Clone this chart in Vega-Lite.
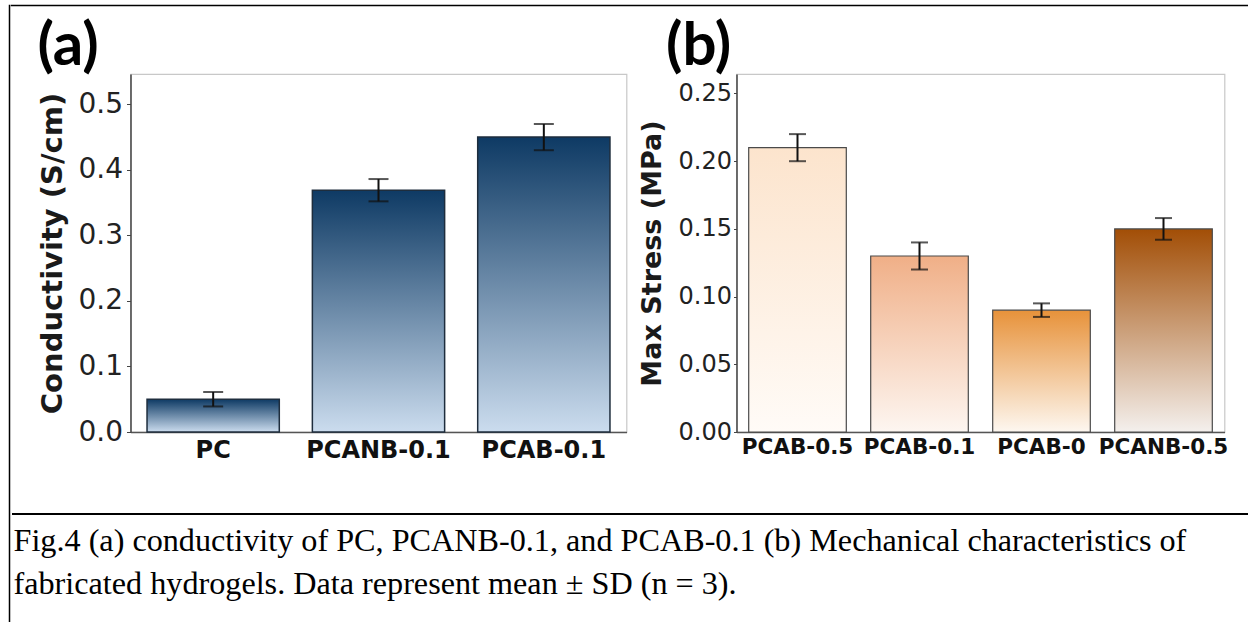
{
  "$schema": "https://vega.github.io/schema/vega-lite/v6.json",
  "padding": {"left": 8.5, "top": 4.5, "right": 0, "bottom": 0},
  "background": "white",
  "datasets": {
    "cond": [
      {"sample": "PC", "mean": 0.05, "sd": 0.011},
      {"sample": "PCANB-0.1", "mean": 0.369, "sd": 0.017},
      {"sample": "PCAB-0.1", "mean": 0.45, "sd": 0.02}
    ],
    "stress": [
      {"sample": "PCAB-0.5", "mean": 0.21, "sd": 0.01},
      {"sample": "PCAB-0.1", "mean": 0.13, "sd": 0.01},
      {"sample": "PCAB-0", "mean": 0.09, "sd": 0.005},
      {"sample": "PCANB-0.5", "mean": 0.15, "sd": 0.008}
    ],
    "caption": [
      {"line": 1, "text": "Fig.4 (a) conductivity of PC, PCANB-0.1, and PCAB-0.1 (b) Mechanical characteristics of"},
      {"line": 2, "text": "fabricated hydrogels. Data represent mean ± SD (n = 3)."}
    ]
  },
  "spacing": 0,
  "hconcat": [
    {
      "width": 0.01,
      "height": 620,
      "view": {"stroke": "#000000", "strokeWidth": 1.5},
      "data": {"values": []},
      "mark": {"type": "rule"},
      "encoding": {}
    },
    {
      "spacing": 9.5,
      "vconcat": [
        {
          "width": 1250,
          "height": 0.01,
          "view": {"stroke": "#000000", "strokeWidth": 1.5},
          "data": {"values": []},
          "mark": {"type": "rule"},
          "encoding": {}
        },
        {
          "spacing": 9,
          "hconcat": [
            {
              "width": 15.5,
              "height": 429.5,
              "view": {"stroke": "transparent"},
              "data": {"values": []},
              "mark": {"type": "rule"},
              "encoding": {}
            },
            {
              "width": 496,
              "height": 358,
              "title": {"text": "(a)", "anchor": "start", "font": "Lato", "fontSize": 60, "fontWeight": "bold", "color": "#000000", "dx": -1, "offset": -4.3},
              "data": {"name": "cond"},
              "encoding": {
                "x": {
                  "field": "sample", "type": "nominal",
                  "sort": ["PC", "PCANB-0.1", "PCAB-0.1"],
                  "scale": {"paddingInner": 0.2, "paddingOuter": 0.1},
                  "axis": {"title": null, "labelAngle": 0, "labelFont": "DejaVu Sans", "labelFontWeight": "bold", "labelFontSize": 24, "labelColor": "#111111", "ticks": false, "labelPadding": 6, "domainColor": "#555555", "domainWidth": 1.5}
                }
              },
              "layer": [
                {
                  "mark": {
                    "type": "bar",
                    "fill": {"gradient": "linear", "x1": 0, "y1": 1, "x2": 0, "y2": 0, "stops": [{"offset": 0, "color": "#cbdcee"}, {"offset": 1, "color": "#0e3a64"}]},
                    "stroke": "#1e2d3d", "strokeWidth": 1.5
                  },
                  "encoding": {
                    "y": {
                      "field": "mean", "type": "quantitative", "title": "Conductivity (S/cm)",
                      "scale": {"domain": [0, 0.5463], "nice": false, "zero": true},
                      "axis": {"values": [0, 0.1, 0.2, 0.3, 0.4, 0.5], "format": ".1f", "grid": false, "labelFont": "DejaVu Sans", "labelFontSize": 28, "labelColor": "#222222", "tickSize": 4, "tickColor": "#444444", "labelPadding": 4, "domainColor": "#444444", "domainWidth": 1.5, "titleFont": "DejaVu Sans", "titleFontSize": 29, "titleFontWeight": "bold", "titleColor": "#1a1a1a", "titlePadding": 10.5}
                    }
                  }
                },
                {
                  "mark": {"type": "errorbar", "color": "#111111", "thickness": 2, "ticks": {"size": 20, "thickness": 2, "color": "#111111"}},
                  "encoding": {
                    "y": {"field": "mean", "type": "quantitative", "title": "Conductivity (S/cm)"},
                    "yError": {"field": "sd"}
                  }
                }
              ]
            },
            {
              "width": 488,
              "height": 358,
              "title": {"text": "(b)", "anchor": "start", "font": "Lato", "fontSize": 60, "fontWeight": "bold", "color": "#000000", "dx": 28, "offset": -4.3},
              "data": {"name": "stress"},
              "encoding": {
                "x": {
                  "field": "sample", "type": "nominal",
                  "sort": ["PCAB-0.5", "PCAB-0.1", "PCAB-0", "PCANB-0.5"],
                  "scale": {"paddingInner": 0.2, "paddingOuter": 0.1},
                  "axis": {"title": null, "labelAngle": 0, "labelFont": "DejaVu Sans", "labelFontWeight": "bold", "labelFontSize": 21.5, "labelColor": "#111111", "ticks": false, "labelPadding": 4, "domainColor": "#555555", "domainWidth": 1.5}
                }
              },
              "layer": [
                {
                  "mark": {"type": "bar", "stroke": "#4a4a4a", "strokeWidth": 1.2},
                  "encoding": {
                    "fill": {
                      "condition": [
                        {"test": "datum.sample === 'PCAB-0.5'", "value": {"gradient": "linear", "x1": 0, "y1": 1, "x2": 0, "y2": 0, "stops": [{"offset": 0, "color": "#fffbf7"}, {"offset": 1, "color": "#fce4cd"}]}},
                        {"test": "datum.sample === 'PCAB-0.1'", "value": {"gradient": "linear", "x1": 0, "y1": 1, "x2": 0, "y2": 0, "stops": [{"offset": 0, "color": "#fdf6f1"}, {"offset": 1, "color": "#f0af87"}]}},
                        {"test": "datum.sample === 'PCAB-0'", "value": {"gradient": "linear", "x1": 0, "y1": 1, "x2": 0, "y2": 0, "stops": [{"offset": 0, "color": "#fdf7f0"}, {"offset": 1, "color": "#e7923a"}]}}
                      ],
                      "value": {"gradient": "linear", "x1": 0, "y1": 1, "x2": 0, "y2": 0, "stops": [{"offset": 0, "color": "#f4f0ed"}, {"offset": 1, "color": "#a24e06"}]}
                    },
                    "y": {
                      "field": "mean", "type": "quantitative", "title": "Max Stress (MPa)",
                      "scale": {"domain": [0, 0.2644], "nice": false, "zero": true},
                      "axis": {"values": [0, 0.05, 0.1, 0.15, 0.2, 0.25], "format": ".2f", "grid": false, "labelFont": "DejaVu Sans", "labelFontSize": 24, "labelColor": "#222222", "tickSize": 3, "tickColor": "#444444", "labelPadding": 2, "domainColor": "#444444", "domainWidth": 1.5, "titleFont": "DejaVu Sans", "titleFontSize": 27, "titleFontWeight": "bold", "titleColor": "#1a1a1a", "titlePadding": 12}
                    }
                  }
                },
                {
                  "mark": {"type": "errorbar", "color": "#111111", "thickness": 2, "ticks": {"size": 17, "thickness": 2, "color": "#111111"}},
                  "encoding": {
                    "y": {"field": "mean", "type": "quantitative", "title": "Max Stress (MPa)"},
                    "yError": {"field": "sd"}
                  }
                }
              ]
            }
          ]
        },
        {
          "width": 1250,
          "height": 130,
          "view": {"stroke": null},
          "data": {"name": "caption"},
          "mark": {"type": "text", "align": "left", "baseline": "middle", "font": "Liberation Serif", "fontSize": 32.2, "color": "#000000", "dx": 2},
          "encoding": {
            "x": {"datum": 0, "type": "quantitative", "scale": {"domain": [0, 1]}, "axis": {"orient": "top", "labels": false, "ticks": false, "grid": false, "title": null, "domain": true, "domainColor": "#000000", "domainWidth": 2}},
            "y": {"field": "line", "type": "quantitative", "scale": {"domain": [0.372, 3.395], "reverse": true, "nice": false, "zero": false}, "axis": null},
            "text": {"field": "text"}
          }
        }
      ]
    }
  ],
  "config": {
    "view": {"stroke": "#c8c8c8", "strokeWidth": 1.2}
  }
}
